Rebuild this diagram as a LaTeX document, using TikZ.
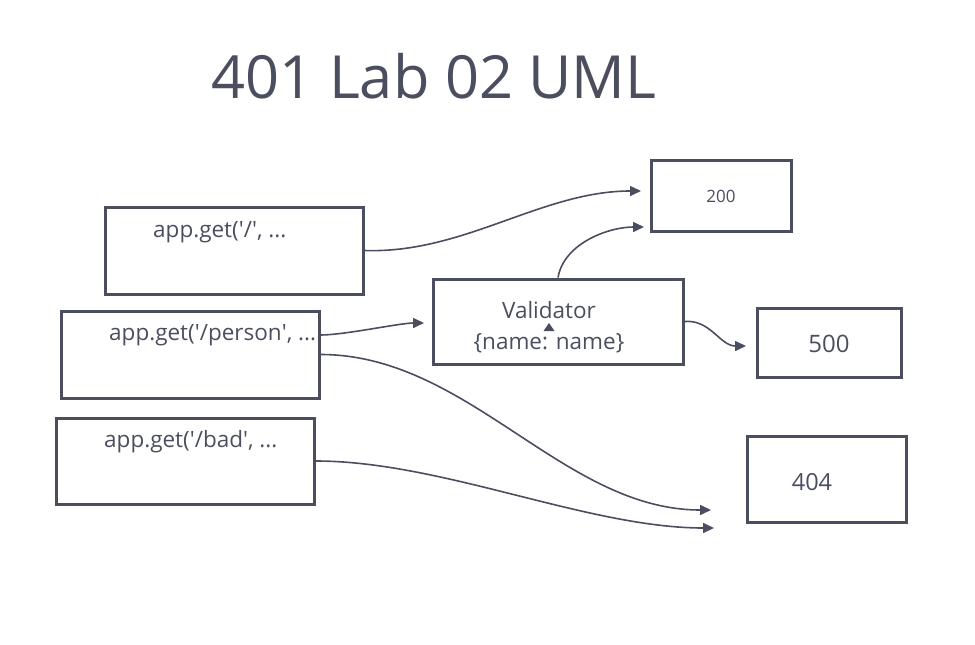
\documentclass[tikz,border=0pt]{standalone}
\usepackage{fontspec}
\setmainfont{Open Sans}
\usetikzlibrary{arrows.meta}
\definecolor{umlgrey}{HTML}{4A4E5F}
\newcommand{\q}{\textquotesingle}
\begin{document}
\begin{tikzpicture}[x=1pt, y=-1pt,
		box/.style = {draw=umlgrey, line width=3pt, inner sep=0pt},
		txt/.style = {text=umlgrey, inner sep=0pt, font=\fontsize{22.5}{26}\selectfont},
		flow/.style = {draw=umlgrey, line width=1.6pt, -{Triangle[length=11pt, width=10pt]}}]
		\useasboundingbox (0,0) rectangle (975,645);
		\node [text=umlgrey, font=\fontsize{59.5}{68}\selectfont] (title) at (434, 76) {401 Lab 02 UML};
		
		% routes on the left
		\node [box, minimum width=258pt, minimum height=87pt] (root) at (234, 250.5) {};
		\node [box, minimum width=258pt, minimum height=87pt] (person) at (190, 354.5) {};
		\node [box, minimum width=258pt, minimum height=86pt] (bad) at (185, 461) {};
		\node [txt, anchor=west] (rootlbl) at (153, 232) {app.get(\q/\q, ...};
		\node [txt, anchor=west] (personlbl) at (109, 335) {app.get(\q/person\q, ...};
		\node [txt, anchor=west] (badlbl) at (104, 442) {app.get(\q/bad\q, ...};
		
		% validator and responses
		\node [box, minimum width=250pt, minimum height=85pt] (valid) at (558, 321.5) {};
		\node [txt] (validlbl) at (549, 310) {Validator};
		\node [txt] (namelbl) at (549, 343) {\{name: name\}};
		\fill [umlgrey] (543.5, 331) -- (554.5, 331) -- (549, 323) -- cycle;
		\node [box, minimum width=140pt, minimum height=71pt] (ok) at (721, 195.5) {};
		\node [txt, font=\fontsize{17}{20}\selectfont] (oklbl) at (721, 196) {200};
		\node [box, minimum width=144pt, minimum height=69pt] (err) at (829, 342.5) {};
		\node [txt, font=\fontsize{24}{28}\selectfont] (errlbl) at (829, 344) {500};
		\node [box, minimum width=159pt, minimum height=86pt] (miss) at (826.5, 479) {};
		\node [txt, font=\fontsize{23.5}{28}\selectfont] (misslbl) at (812, 482) {404};
		
		\coordinate (okin) at (641, 191);
		\coordinate (okin2) at (644, 227);
		\coordinate (errin) at (746, 346);
		\coordinate (validin) at (424, 323);
		\coordinate (missin) at (711, 510);
		\coordinate (missin2) at (714, 528);
		
		\draw [flow] (root.east) to [out=-2, in=180, looseness=0.9] (okin);
		\draw [flow] (valid.north) to [out=80, in=180, looseness=0.9] (okin2);
		\draw [flow] (valid.east) to [out=5, in=180] (errin);
		\draw [flow] (person.east |- personlbl.east) to [out=0, in=180, looseness=0.6] (validin);
		\draw [flow] (person.east) to [out=0, in=180, looseness=0.9] (missin);
		\draw [flow] (bad.east) to [out=0, in=180, looseness=0.8] (missin2);
		
		\end{tikzpicture}
\end{document}
